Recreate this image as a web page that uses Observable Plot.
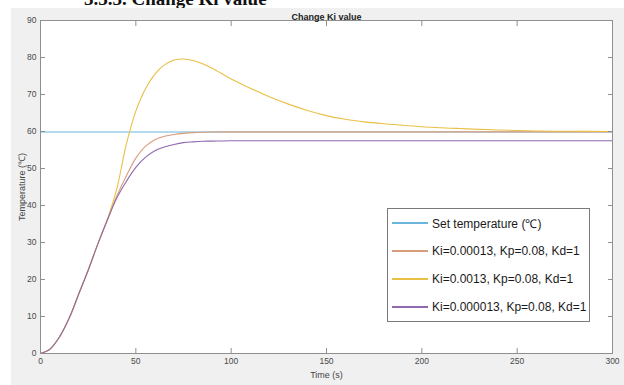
<!DOCTYPE html>
<html>
<head>
<meta charset="utf-8">
<script src="https://cdn.jsdelivr.net/npm/d3@7"></script>
<script src="https://cdn.jsdelivr.net/npm/@observablehq/plot@0.6"></script>
<style>
  html, body { margin: 0; padding: 0; background: #ffffff; }
  body { width: 624px; height: 385px; position: relative; overflow: hidden; font-family: "Liberation Sans", Arial, sans-serif; }
  #heading { position: absolute; left: 84px; top: -12px; font-family: "Liberation Serif", "Times New Roman", serif; font-weight: bold; font-size: 19px; color: #111; white-space: nowrap; }
  #chart { position: absolute; left: 11px; top: 8px; }
  #legend { position: absolute; left: 387px; top: 208px; width: 203px; height: 114px; background: #fff; border: 1px solid #7a7a7a; box-sizing: border-box; padding-top: 0; }
  .row { height: 28px; display: flex; align-items: center; }
  .sw { flex: 0 0 36px; width: 36px; height: 2px; margin-left: 4px; margin-right: 4px; align-self: flex-start; margin-top: 13px; }
  .lb { font-size: 12px; color: #1a1a1a; white-space: nowrap; }
</style>
</head>
<body>
<div id="heading">3.3.3. Change Ki value</div>
<div id="chart"></div>
<div id="legend"></div>
<script>
// ---- data ----
const time     = [0,5,10,15,20,25,30,35,40,45,50,55,60,65,70,75,80,85,90,100,110,120,130,140,150,160,170,180,190,200,220,240,260,280,300];
const kiHigh   = [0,1.2,4.5,9.5,16,22.5,29.5,36.2,44.5,56.5,65.5,71.5,75.5,78,79.3,79.6,79.2,78.3,77.1,74.2,71.7,69.4,67.4,65.7,64.3,63.3,62.6,62.1,61.7,61.3,60.8,60.4,60.15,60.05,60];
const kiMid    = [0,1.2,4.5,9.5,16,22.5,29.5,36,42.5,48,52.8,56,57.8,58.7,59.2,59.5,59.7,59.8,59.85,59.9,59.9,59.9,59.9,59.9,59.9,59.9,59.9,59.9,59.9,59.9,59.9,59.9,59.9,59.9,59.9];
const kiLow    = [0,1.2,4.5,9.5,16,22.5,29.5,36,42,46.5,50.3,53,54.8,55.8,56.5,57,57.2,57.35,57.4,57.5,57.5,57.5,57.5,57.5,57.5,57.5,57.5,57.5,57.5,57.5,57.5,57.5,57.5,57.5,57.5];
const setTemp  = time.map(() => 60);
const seriesNames  = ["Set temperature (℃)", "Ki=0.00013, Kp=0.08, Kd=1", "Ki=0.0013, Kp=0.08, Kd=1", "Ki=0.000013, Kp=0.08, Kd=1"];
const seriesValues = [setTemp, kiMid, kiHigh, kiLow];
const seriesColors = ["#6ab6dc", "#d99c7a", "#e8c046", "#8f68b0"];
const xTicks = [0,50,100,150,200,250,300];
const yTicks = [0,10,20,30,40,50,60,70,80,90];
const title  = "Change Ki value";
const xLabel = "Time (s)";
const yLabel = "Temperature (℃)";

const tables = seriesValues.map(vals => time.map((t, j) => ({t, v: vals[j]})));

const axisStroke = "#8f8f8f";
const chart = Plot.plot({
  width: 613, height: 377,
  marginLeft: 29, marginRight: 12, marginTop: 12, marginBottom: 32,
  style: {background: "#f0f0f0", fontFamily: "'Liberation Sans', Arial, sans-serif", fontSize: "8.5px", color: "#4a4a4a"},
  x: {domain: [0, 300]},
  y: {domain: [0, 90]},
  marks: [
    Plot.frame({fill: "white"}),
    ...tables.map((tb, i) => Plot.line(tb, {x: "t", y: "v", stroke: seriesColors[i], strokeWidth: 1.1, dy: i === 0 ? 0.5 : 0, curve: "catmull-rom"})),
    Plot.frame({stroke: axisStroke}),
    Plot.axisX({ticks: xTicks, tickSize: -5, tickPadding: 9, stroke: axisStroke, label: null}),
    Plot.axisX({ticks: xTicks, anchor: "top", tickSize: -5, tickFormat: () => "", stroke: axisStroke, label: null}),
    Plot.axisY({ticks: yTicks, tickSize: -5, tickPadding: 9, stroke: axisStroke, label: null}),
    Plot.axisY({ticks: yTicks, anchor: "right", tickSize: -5, tickFormat: () => "", stroke: axisStroke, label: null}),
    Plot.text([title], {frameAnchor: "top", dy: -7, fontWeight: "bold", fontSize: 9, fill: "#222"}),
    Plot.text([xLabel], {frameAnchor: "bottom", dy: 24, fontSize: 9, fill: "#444"}),
    Plot.text([yLabel], {frameAnchor: "left", dx: -18, rotate: -90, textAnchor: "middle", fontSize: 9, fill: "#444"})
  ]
});
document.getElementById("chart").appendChild(chart);

const legend = document.getElementById("legend");
seriesNames.forEach((name, i) => {
  const row = document.createElement("div");
  row.className = "row";
  const sw = document.createElement("div");
  sw.className = "sw";
  sw.style.background = seriesColors[i];
  const lb = document.createElement("div");
  lb.className = "lb";
  lb.textContent = name;
  row.appendChild(sw); row.appendChild(lb);
  legend.appendChild(row);
});
</script>
</body>
</html>
